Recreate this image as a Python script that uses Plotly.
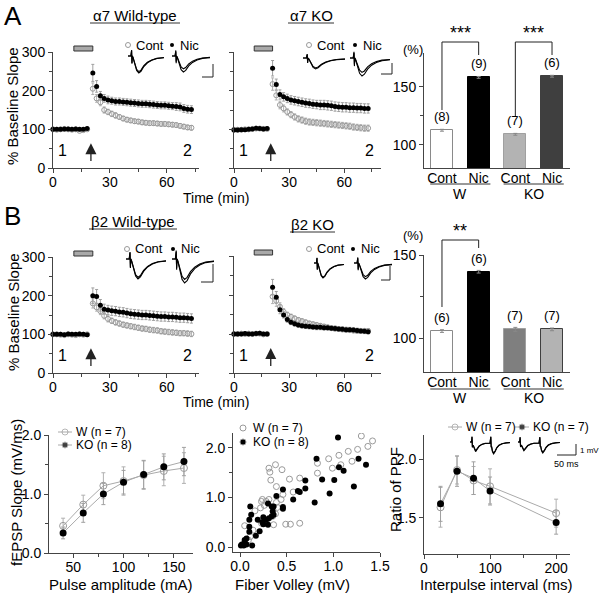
import plotly.graph_objects as go

FONT = "Liberation Sans, Arial, sans-serif"
W, H = 600, 594
AX = "#444444"
GRAY = "#9a9a9a"

# ---------------- data ----------------
base_t = [0, 2, 4, 6, 8, 10, 12, 14, 16, 18]
post_t = [21, 23, 25, 27, 29, 31, 33, 35, 37, 39, 41, 43, 45, 47, 49,
          51, 53, 55, 57, 59, 61, 63, 65, 67, 69, 71, 73]

# alpha7 wild-type
a7wt_nic_base = [100, 100, 100, 101, 101, 100, 101, 100, 100, 102]
a7wt_cont_base = [100, 99, 100, 101, 100, 99, 100, 96, 98, 100]
a7wt_nic = [246, 211, 187, 180, 176, 174, 172, 172, 171, 170, 169, 168, 167, 166, 166,
            165, 164, 163, 162, 162, 161, 160, 159, 158, 154, 152, 151]
a7wt_cont = [205, 180, 170, 150, 145, 140, 136, 132, 128, 125, 123, 121, 120, 118, 117,
             116, 116, 115, 114, 114, 113, 112, 111, 109, 107, 105, 104]
a7wt_nic_err = [22, 15, 11, 10, 10, 9, 9, 9, 9, 9, 9, 9, 9, 9, 9,
                9, 9, 9, 9, 9, 9, 9, 10, 10, 10, 10, 10]
a7wt_cont_err = [15, 10, 9, 8, 7, 7, 7, 6, 6, 6, 6, 6, 6, 6, 6,
                 6, 6, 6, 6, 6, 6, 6, 6, 6, 6, 6, 6]

# alpha7 KO
a7ko_nic_base = [98, 98, 99, 99, 100, 101, 103, 102, 101, 102]
a7ko_cont_base = [99, 99, 99, 100, 100, 101, 102, 102, 101, 101]
a7ko_nic = [258, 216, 190, 184, 180, 176, 174, 172, 170, 168, 167, 165, 164, 163, 163,
            162, 161, 159, 158, 157, 157, 156, 156, 155, 155, 154, 154]
a7ko_cont = [217, 188, 163, 154, 145, 138, 132, 127, 124, 121, 119, 118, 117, 116, 115,
             114, 113, 112, 111, 110, 109, 108, 106, 105, 104, 103, 103]
a7ko_nic_err = [20, 14, 12, 11, 11, 11, 11, 11, 11, 11, 11, 11, 11, 12, 12,
                12, 12, 12, 12, 12, 12, 12, 12, 12, 12, 12, 12]
a7ko_cont_err = [16, 12, 10, 9, 8, 8, 8, 8, 8, 8, 8, 8, 8, 8, 8,
                 8, 8, 8, 8, 8, 8, 8, 8, 8, 8, 8, 8]

# beta2 wild-type
b2wt_nic_base = [100, 100, 100, 99, 101, 100, 100, 101, 100, 99]
b2wt_cont_base = [100, 100, 99, 98, 100, 99, 98, 100, 99, 100]
b2wt_nic = [200, 198, 175, 165, 163, 161, 160, 158, 157, 155, 153, 152, 151, 150, 150,
            149, 148, 147, 146, 146, 145, 145, 144, 143, 143, 142, 141]
b2wt_cont = [180, 170, 160, 148, 140, 135, 131, 128, 125, 123, 121, 119, 117, 115, 114,
             112, 111, 110, 108, 107, 106, 105, 104, 103, 103, 102, 101]
b2wt_nic_err = [20, 18, 15, 13, 12, 12, 12, 12, 12, 12, 12, 12, 12, 12, 12,
                12, 12, 12, 12, 12, 12, 12, 12, 12, 12, 12, 12]
b2wt_cont_err = [12, 10, 9, 8, 8, 7, 7, 7, 7, 7, 7, 7, 7, 7, 7,
                 7, 7, 7, 7, 7, 7, 7, 7, 7, 7, 7, 7]

# beta2 KO
b2ko_nic_base = [100, 100, 100, 101, 100, 100, 101, 102, 100, 100]
b2ko_cont_base = [100, 100, 101, 100, 101, 100, 101, 101, 99, 100]
b2ko_nic = [220, 194, 162, 149, 137, 130, 126, 123, 121, 120, 119, 118, 117, 117, 116,
            116, 115, 114, 113, 112, 111, 111, 110, 109, 108, 107, 106]
b2ko_cont = [196, 185, 170, 157, 149, 144, 140, 136, 133, 130, 127, 125, 123, 121, 119,
             117, 115, 114, 113, 112, 111, 110, 109, 108, 108, 108, 108]
b2ko_nic_err = [20, 15, 10, 8, 7, 6, 6, 6, 6, 6, 6, 6, 6, 6, 6,
                6, 6, 6, 6, 6, 6, 6, 6, 6, 6, 6, 6]
b2ko_cont_err = [18, 14, 10, 8, 7, 7, 6, 6, 6, 6, 6, 6, 6, 6, 6,
                 6, 6, 6, 6, 6, 6, 6, 6, 6, 6, 6, 6]

# summary bars
bar_cats = ["Cont", "Nic", "Cont", "Nic"]
bar_groups = ["W", "KO"]
a_bar_vals = [112.5, 158, 109, 159]
a_bar_err = [0.8, 0.8, 0.8, 0.8]
a_bar_n = ["(8)", "(9)", "(7)", "(6)"]
a_bar_colors = ["#ffffff", "#000000", "#b3b3b3", "#3f3f3f"]
b_bar_vals = [104.5, 140, 105.5, 105.5]
b_bar_err = [0.8, 0.8, 1.2, 0.8]
b_bar_n = ["(6)", "(6)", "(7)", "(7)"]
b_bar_colors = ["#ffffff", "#000000", "#7f7f7f", "#b3b3b3"]

# input-output
pulse_amp = [40, 60, 80, 100, 120, 140, 160]
io_w = [0.46, 0.82, 1.14, 1.22, 1.32, 1.39, 1.44]
io_w_err = [0.13, 0.16, 0.22, 0.24, 0.24, 0.25, 0.26]
io_ko = [0.34, 0.68, 1.00, 1.20, 1.33, 1.46, 1.55]
io_ko_err = [0.10, 0.16, 0.18, 0.20, 0.24, 0.22, 0.24]

# fiber volley vs slope
fv_w = [1.30, 1.42, 1.37, 1.26, 1.16, 1.06, 0.95, 0.83, 1.20, 0.99, 1.08, 0.83, 0.38, 0.31,
        0.32, 0.45, 0.33, 0.53, 0.64, 0.39, 0.57, 0.46, 0.44, 0.39, 0.31, 0.24, 0.23, 0.28,
        0.26, 0.22, 0.16, 0.40, 0.38, 0.35, 0.29, 0.23, 0.36, 0.49, 0.54, 0.64, 0.05, 0.14,
        0.11, 0.09]
sl_w = [2.24, 2.14, 2.03, 1.97, 1.93, 1.85, 1.78, 1.69, 1.73, 1.59, 1.66, 1.49, 1.66, 1.59,
        1.51, 1.56, 1.35, 1.37, 1.39, 1.22, 1.11, 1.06, 0.96, 0.90, 0.96, 0.96, 0.92, 0.92,
        0.84, 0.79, 0.73, 0.80, 0.67, 0.62, 0.47, 0.48, 0.45, 0.46, 0.46, 0.48, 0.43, 0.34,
        0.21, 0.14]
fv_ko = [1.05, 0.82, 1.27, 1.06, 1.11, 1.35, 0.88, 1.01, 0.70, 0.46, 0.70, 0.62, 0.64, 1.22,
         0.96, 0.57, 0.80, 0.39, 0.46, 0.46, 0.11, 0.12, 0.30, 0.34, 0.36, 0.35, 0.36, 0.34,
         0.31, 0.28, 0.25, 0.19, 0.10, 0.24, 0.30, 0.25, 0.10, 0.10, 0.21, 0.17, 0.07, 0.05,
         0.05, 0.02, 0.04, 0.07, 0.13, 0.01]
sl_ko = [2.21, 1.78, 1.78, 1.61, 1.54, 1.66, 1.36, 1.35, 1.34, 1.16, 1.18, 1.13, 1.11, 1.22,
         1.08, 0.96, 0.90, 1.03, 0.81, 0.77, 0.82, 0.65, 0.88, 0.82, 0.82, 0.72, 0.65, 0.62,
         0.58, 0.55, 0.60, 0.55, 0.55, 0.50, 0.45, 0.46, 0.41, 0.31, 0.32, 0.23, 0.17, 0.14,
         0.10, 0.05, 0.03, 0.05, 0.03, 0.03]

# paired-pulse facilitation
ipi = [25, 50, 75, 100, 200]
ppf_w = [1.59, 1.91, 1.82, 1.77, 1.54]
ppf_w_err = [0.17, 0.12, 0.12, 0.15, 0.12]
ppf_ko = [1.62, 1.90, 1.84, 1.73, 1.46]
ppf_ko_err = [0.15, 0.13, 0.14, 0.12, 0.10]

# example traces (normalised shape of the inset recordings)
fepsp_t = [0.00, 0.08, 0.10, 0.11, 0.12, 0.14, 0.18, 0.24, 0.30, 0.36, 0.44, 0.54, 0.66, 0.80, 1.00]
fepsp_v = [0.00, 0.00, 0.35, -0.45, 0.00, -0.10, -0.45, -0.85, -1.00, -0.90, -0.62, -0.40,
           -0.25, -0.15, -0.10]
pp_t = [0.00, 0.04, 0.05, 0.06, 0.08, 0.11, 0.14, 0.18, 0.23, 0.30, 0.38, 0.50, 0.52, 0.53,
        0.54, 0.56, 0.59, 0.63, 0.67, 0.72, 0.80, 0.90, 1.00]
pp_v = [0.00, 0.00, 0.45, -0.45, -0.30, -0.60, -0.80, -0.60, -0.35, -0.20, -0.12, -0.10,
        0.45, -0.45, -0.40, -0.80, -1.00, -0.80, -0.50, -0.30, -0.15, -0.08, -0.05]

# ---------------- helpers ----------------
def xd(a, b):
    return [a / W, b / W]


def yd(top, bottom):
    return [1 - bottom / H, 1 - top / H]


def PX(x):
    return x / W


def PY(y):
    return 1 - y / H


def axis(**kw):
    d = dict(showline=True, linecolor=AX, linewidth=1, ticks="outside", ticklen=4,
             tickwidth=1, tickcolor=AX, showgrid=False, zeroline=False, fixedrange=True,
             automargin=False,
             tickfont=dict(family=FONT, size=14, color="black"))
    d.update(kw)
    return d


def xaxis_(**kw):
    kw.setdefault("ticklabelstandoff", -3)
    return axis(**kw)


fig = go.Figure()
annotations = []
shapes = []


def text(x, y, s, size=14, xanchor="center", yanchor="middle", angle=0, xref="paper",
         yref="paper", **kw):
    annotations.append(dict(x=x, y=y, xref=xref, yref=yref, text=s, showarrow=False,
                            xanchor=xanchor, yanchor=yanchor, textangle=angle,
                            font=dict(family=FONT, size=size, color="black"), **kw))


def ptext(x, y, s, size=14, **kw):
    text(PX(x), PY(y), s, size=size, **kw)


def pline(x0, y0, x1, y1, color="#222222", width=1):
    shapes.append(dict(type="line", xref="paper", yref="paper", x0=PX(x0), y0=PY(y0),
                       x1=PX(x1), y1=PY(y1), line=dict(color=color, width=width)))


# ---------------- time-course panels ----------------
tc_panels = [
    (1, xd(53, 199), yd(52, 168), [0, 77], a7wt_cont_base, a7wt_cont, a7wt_cont_err,
     a7wt_nic_base, a7wt_nic, a7wt_nic_err),
    (2, xd(234, 381), yd(52, 168), [0, 80], a7ko_cont_base, a7ko_cont, a7ko_cont_err,
     a7ko_nic_base, a7ko_nic, a7ko_nic_err),
    (4, xd(53, 199), yd(257, 373), [0, 77], b2wt_cont_base, b2wt_cont, b2wt_cont_err,
     b2wt_nic_base, b2wt_nic, b2wt_nic_err),
    (5, xd(234, 381), yd(256, 373), [0, 80], b2ko_cont_base, b2ko_cont, b2ko_cont_err,
     b2ko_nic_base, b2ko_nic, b2ko_nic_err),
]

layout_axes = {}
for idx, xdom, ydom, xr, cb, cp, ce, nb, npost, ne in tc_panels:
    xa, ya = ("x", "y") if idx == 1 else (f"x{idx}", f"y{idx}")
    kx = "xaxis" if idx == 1 else f"xaxis{idx}"
    ky = "yaxis" if idx == 1 else f"yaxis{idx}"
    layout_axes[kx] = xaxis_(domain=xdom, range=xr, anchor=ya, tickvals=[0, 30, 60],
                             minor=dict(tickvals=[15, 45, 75], ticks="outside", ticklen=3,
                                        tickcolor=AX))
    layout_axes[ky] = axis(domain=ydom, range=[0, 300], anchor=xa,
                           tickvals=[0, 100, 200, 300],
                           showticklabels=idx in (1, 4),
                           minor=dict(tickvals=[50, 150, 250], ticks="outside", ticklen=3,
                                      tickcolor=AX))
    tt = base_t + post_t
    fig.add_trace(go.Scatter(
        x=tt, y=cb + cp, xaxis=xa, yaxis=ya, mode="markers", showlegend=False,
        error_y=dict(type="data", array=[2] * len(cb) + ce, color="#b0b0b0", thickness=1,
                     width=1.5),
        marker=dict(symbol="circle-open", size=5, color=GRAY, line=dict(width=1, color=GRAY)),
        cliponaxis=False))
    fig.add_trace(go.Scatter(
        x=tt, y=nb + npost, xaxis=xa, yaxis=ya, mode="markers", showlegend=False,
        error_y=dict(type="data", array=[2] * len(nb) + ne, color="#a0a0a0", thickness=1,
                     width=1.5),
        marker=dict(symbol="circle", size=5, color="black"), cliponaxis=False))
    top_px = (1 - ydom[1]) * H
    shapes.append(dict(type="rect", xref=xa, yref="paper", x0=11, x1=21,
                       y0=PY(top_px - 1), y1=PY(top_px - 6), fillcolor="#a9a9a9",
                       line=dict(color="#333333", width=1)))
    annotations.append(dict(x=20, y=64, ax=20, ay=14, xref=xa, yref=ya, axref=xa, ayref=ya,
                            text="", showarrow=True, arrowhead=2, arrowsize=1.7,
                            arrowwidth=1.3, arrowcolor="#222222"))
    text(5, 45, "1", size=16, xref=xa, yref=ya)
    text(xr[1] - 6, 45, "2", size=16, xref=xa, yref=ya)

# ---------------- bar panels ----------------
bar_panels = [
    (3, xd(424, 570), yd(53, 168), [80, 179], a_bar_vals, a_bar_err, a_bar_n, a_bar_colors),
    (6, xd(424, 570), yd(255, 372), [80, 150], b_bar_vals, b_bar_err, b_bar_n, b_bar_colors),
]
for idx, xdom, ydom, yr, vals, errs, ns, cols in bar_panels:
    xa, ya = f"x{idx}", f"y{idx}"
    layout_axes[f"xaxis{idx}"] = xaxis_(domain=xdom, range=[-0.49, 3.49], anchor=ya,
                                        tickvals=[0, 1, 2, 3], ticktext=bar_cats, ticks="")
    layout_axes[f"yaxis{idx}"] = axis(domain=ydom, range=yr, anchor=xa, tickvals=[100, 150],
                                      minor=dict(tickvals=[125], ticks="outside", ticklen=3,
                                                 tickcolor=AX))
    fig.add_trace(go.Bar(
        x=[0, 1, 2, 3], y=vals, xaxis=xa, yaxis=ya, width=0.6, showlegend=False,
        marker=dict(color=cols, line=dict(color=["#8a8a8a", "#000000", "#a0a0a0", "#3f3f3f"],
                                          width=1)),
        error_y=dict(type="data", array=errs, color="#888888", thickness=1, width=2)))
    for i, (v, n) in enumerate(zip(vals, ns)):
        annotations.append(dict(x=i, y=v, xref=xa, yref=ya, text=n, showarrow=False,
                                yanchor="bottom", yshift=4,
                                font=dict(family=FONT, size=13, color="black")))

# ---------------- bottom row ----------------
TF = dict(family=FONT, size=14, color="black")
layout_axes["xaxis7"] = xaxis_(domain=xd(49, 193), range=[26, 169], anchor="y7",
                               tickvals=[50, 100, 150], tickfont=TF,
                               minor=dict(tickvals=[75, 125], ticks="outside", ticklen=3,
                                          tickcolor=AX))
layout_axes["yaxis7"] = axis(domain=yd(435, 553), range=[0, 2], anchor="x7",
                             tickvals=[0, 1, 2], ticktext=["0.0", "1.0", "2.0"], tickfont=TF,
                             minor=dict(tickvals=[0.5, 1.5], ticks="outside", ticklen=3,
                                        tickcolor=AX))
layout_axes["xaxis8"] = xaxis_(domain=xd(233, 380), range=[-0.075, 1.5], anchor="y8",
                               tickvals=[0, 0.5, 1.0, 1.5],
                               ticktext=["0.0", "0.5", "1.0", "1.5"], tickfont=TF)
layout_axes["yaxis8"] = axis(domain=yd(433, 552), range=[-0.1, 2.3], anchor="x8",
                             tickvals=[0, 1, 2], ticktext=["0.0", "1.0", "2.0"], tickfont=TF,
                             minor=dict(tickvals=[0.5, 1.5], ticks="outside", ticklen=3,
                                        tickcolor=AX))
layout_axes["xaxis9"] = xaxis_(domain=xd(424, 570), range=[0, 221], anchor="y9",
                               tickvals=[0, 100, 200], tickfont=TF,
                               minor=dict(tickvals=[50, 150], ticks="outside", ticklen=3,
                                          tickcolor=AX))
layout_axes["yaxis9"] = axis(domain=yd(435, 554), range=[1.19, 2.21], anchor="x9",
                             tickvals=[1.5, 2.0], ticktext=["1.5", "2.0"], tickfont=TF)

for xa, ya, xs, yw, ew, yk, ek in [("x7", "y7", pulse_amp, io_w, io_w_err, io_ko, io_ko_err),
                                   ("x9", "y9", ipi, ppf_w, ppf_w_err, ppf_ko, ppf_ko_err)]:
    fig.add_trace(go.Scatter(
        x=xs, y=yw, xaxis=xa, yaxis=ya, mode="lines+markers", showlegend=False,
        line=dict(color="#aaaaaa", width=1),
        error_y=dict(type="data", array=ew, color="#b0b0b0", thickness=1, width=2),
        marker=dict(symbol="circle-open", size=7, color=GRAY, line=dict(width=1, color=GRAY))))
    fig.add_trace(go.Scatter(
        x=xs, y=yk, xaxis=xa, yaxis=ya, mode="lines+markers", showlegend=False,
        line=dict(color="#aaaaaa", width=1),
        error_y=dict(type="data", array=ek, color="#a0a0a0", thickness=1, width=2),
        marker=dict(symbol="circle", size=7, color="black")))

fig.add_trace(go.Scatter(x=fv_w, y=sl_w, xaxis="x8", yaxis="y8", mode="markers",
                         showlegend=False,
                         marker=dict(symbol="circle-open", size=6, color=GRAY,
                                     line=dict(width=1, color=GRAY))))
fig.add_trace(go.Scatter(x=fv_ko, y=sl_ko, xaxis="x8", yaxis="y8", mode="markers",
                         showlegend=False, marker=dict(symbol="circle", size=6, color="black")))

# ---------------- overlay (pixel space) for insets / legends ----------------
layout_axes["xaxis10"] = dict(domain=[0, 1], range=[0, W], anchor="y10", visible=False,
                              fixedrange=True, automargin=False)
layout_axes["yaxis10"] = dict(domain=[0, 1], range=[H, 0], anchor="x10", visible=False,
                              fixedrange=True, automargin=False)


def inset(t, v, x0, ytop, w, h, factors):
    for f in factors:
        fig.add_trace(go.Scatter(x=[x0 + ti * w for ti in t], y=[ytop - vi * h * f for vi in v],
                                 xaxis="x10", yaxis="y10", mode="lines", showlegend=False,
                                 line=dict(color="black", width=1.1), hoverinfo="skip"))


inset(fepsp_t, fepsp_v, 128, 56, 36, 17, [0.92, 1.0])
inset(fepsp_t, fepsp_v, 172, 56, 38, 16, [0.8, 1.0])
inset(fepsp_t, fepsp_v, 303, 58, 42, 11, [0.9, 1.0])
inset(fepsp_t, fepsp_v, 350, 58, 40, 18, [0.8, 1.0])
inset(fepsp_t, fepsp_v, 126, 259, 40, 20, [0.92, 1.0])
inset(fepsp_t, fepsp_v, 172, 259, 42, 24, [0.85, 1.0])
inset(fepsp_t, fepsp_v, 314, 263, 30, 15, [0.95, 1.0])
inset(fepsp_t, fepsp_v, 354, 263, 38, 16, [0.85, 1.0])
inset(pp_t, pp_v, 470, 442, 40, 12, [0.92, 1.0])
inset(pp_t, pp_v, 518, 442, 42, 11, [0.92, 1.0])

# legend markers (time-course insets)
leg_open_x = [128, 309, 127, 309]
leg_open_y = [45, 45, 249, 249]
leg_fill_x = [172, 355, 173, 353]
fig.add_trace(go.Scatter(x=leg_open_x, y=leg_open_y, xaxis="x10", yaxis="y10", mode="markers",
                         showlegend=False, hoverinfo="skip",
                         marker=dict(symbol="circle-open", size=5, color=GRAY,
                                     line=dict(width=1, color=GRAY))))
fig.add_trace(go.Scatter(x=leg_fill_x, y=leg_open_y, xaxis="x10", yaxis="y10", mode="markers",
                         showlegend=False, hoverinfo="skip",
                         marker=dict(symbol="circle", size=4, color="black")))
for xo, xf, yy in zip(leg_open_x, leg_fill_x, leg_open_y):
    ptext(xo + 6, yy, "Cont", size=13, xanchor="left")
    ptext(xf + 6, yy, "Nic", size=13, xanchor="left")

# bottom-row legends (line + marker)
for cx, cy, sym, label in [(65, 432, "circle-open", "W (n = 7)"),
                           (65, 445, "circle", "KO (n = 8)"),
                           (455, 427, "circle-open", "W (n = 7)"),
                           (522, 427, "circle", "KO (n = 7)")]:
    fig.add_trace(go.Scatter(x=[cx - 7, cx, cx + 7], y=[cy, cy, cy], xaxis="x10", yaxis="y10",
                             mode="lines+markers", showlegend=False, hoverinfo="skip",
                             line=dict(color="#aaaaaa", width=1),
                             marker=dict(symbol=sym, size=[0, 6, 0],
                                         color=GRAY if sym == "circle-open" else "black",
                                         line=dict(width=1, color=GRAY))))
    ptext(cx + 9, cy, label, size=12, xanchor="left")
for cy, sym, label in [(428, "circle-open", "W (n = 7)"), (442, "circle", "KO (n = 8)")]:
    fig.add_trace(go.Scatter(x=[243], y=[cy], xaxis="x10", yaxis="y10", mode="markers",
                             showlegend=False, hoverinfo="skip",
                             marker=dict(symbol=sym, size=6,
                                         color=GRAY if sym == "circle-open" else "black",
                                         line=dict(width=1, color=GRAY))))
    ptext(251, cy, label, size=12, xanchor="left")

# scale bars
for (hx0, hx1, hy, vy0) in [(202, 213, 77, 64), (381, 392, 74, 63), (201, 213, 282, 264),
                            (381, 390, 280, 266), (557, 576, 455, 444)]:
    pline(hx0, hy, hx1, hy)
    pline(hx1, vy0, hx1, hy)
ptext(578, 450, "1 mV", size=8, xanchor="left")
ptext(566, 464, "50 ms", size=9)


# ---------------- bar-panel brackets, labels ----------------
def bracket(xa, xl, xr, ytop, yl, yr, stars, ystar):
    shapes.append(dict(type="line", xref=xa, yref="paper", x0=xl, x1=xl, y0=PY(yl), y1=PY(ytop),
                       line=dict(color="#222222", width=1)))
    shapes.append(dict(type="line", xref=xa, yref="paper", x0=xl, x1=xr, y0=PY(ytop),
                       y1=PY(ytop), line=dict(color="#222222", width=1)))
    shapes.append(dict(type="line", xref=xa, yref="paper", x0=xr, x1=xr, y0=PY(ytop), y1=PY(yr),
                       line=dict(color="#222222", width=1)))
    annotations.append(dict(x=(xl + xr) / 2, y=PY(ystar), xref=xa, yref="paper", text=stars,
                            showarrow=False, yanchor="middle", xanchor="center",
                            font=dict(family=FONT, size=18, color="black")))


bracket("x3", 0, 1, 42, 110, 55, "***", 33)
bracket("x3", 2, 3, 42, 117, 55, "***", 33)
bracket("x6", 0, 1, 240, 307, 248, "**", 231)

for xa, yline, ygrp in [("x3", 184, 194), ("x6", 389, 398)]:
    for g, (a, b) in zip(bar_groups, [(0, 1), (2, 3)]):
        shapes.append(dict(type="line", xref=xa, yref="paper", x0=a - 0.32, x1=b + 0.32,
                           y0=PY(yline), y1=PY(yline), line=dict(color="#333333", width=1)))
        annotations.append(dict(x=(a + b) / 2, y=PY(ygrp), xref=xa, yref="paper", text=g,
                                showarrow=False, yanchor="middle", xanchor="center",
                                font=dict(family=FONT, size=14, color="black")))
ptext(413, 50, "(%)", size=13)
ptext(413, 236, "(%)", size=13)

# ---------------- titles, axis labels, panel letters ----------------
for cx, cy, s, ux0, ux1 in [(135, 15, "α7 Wild-type", 90, 180), (311, 15, "α7 KO", 288, 334),
                            (133, 221, "β2 Wild-type", 89, 177), (312, 224, "β2 KO", 290, 335)]:
    ptext(cx, cy, s, size=15)
    pline(ux0, cy + 8, ux1, cy + 8, color="#333333")

ptext(2, 16, "A", size=26, xanchor="left")
ptext(2, 216, "B", size=26, xanchor="left")
ptext(13, 106, "% Baseline Slope", size=15, angle=-90)
ptext(13, 312, "% Baseline Slope", size=15, angle=-90)
ptext(216, 198, "Time (min)", size=14)
ptext(216, 402, "Time (min)", size=14)
ptext(16, 493, "fEPSP Slope (mV/ms)", size=15, angle=-90)
ptext(395, 490, "Ratio of PPF", size=15, angle=-90)
ptext(120, 584, "Pulse amplitude (mA)", size=15)
ptext(292, 584, "Fiber Volley (mV)", size=15)
ptext(496, 584, "Interpulse interval (ms)", size=15)

fig.update_layout(
    width=W, height=H, margin=dict(l=0, r=0, t=0, b=0),
    paper_bgcolor="white", plot_bgcolor="rgba(0,0,0,0)",
    font=dict(family=FONT, color="black"),
    showlegend=False, bargap=0,
    annotations=annotations, shapes=shapes,
    **layout_axes,
)

fig.write_html(
    "out.html",
    config={"displayModeBar": False},
    post_script="document.body.style.margin='0';document.body.style.padding='0';"
                "document.documentElement.style.overflow='hidden';",
)
